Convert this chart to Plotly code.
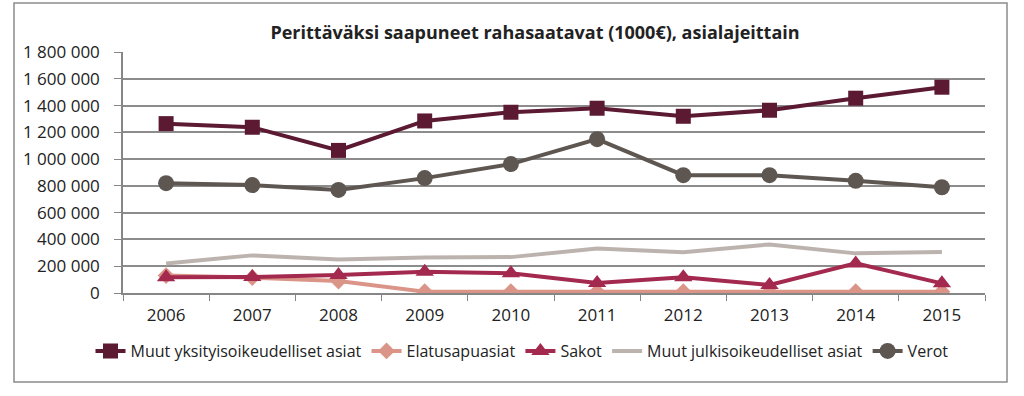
import plotly.graph_objects as go

years = ["2006", "2007", "2008", "2009", "2010", "2011", "2012", "2013", "2014", "2015"]
muut_yksityis = [1265000, 1238000, 1065000, 1285000, 1350000, 1380000, 1320000, 1365000, 1455000, 1537000]
elatusapu = [130000, 115000, 90000, 10000, 10000, 10000, 10000, 10000, 10000, 10000]
sakot = [117000, 120000, 134000, 159000, 147000, 75000, 117000, 60000, 221000, 72000]
muut_julkis = [221000, 281000, 251000, 266000, 268000, 333000, 304000, 363000, 296000, 306000]
verot = [820000, 806000, 770000, 858000, 963000, 1149000, 880000, 880000, 838000, 790000]

y_ticks = [0, 200000, 400000, 600000, 800000, 1000000, 1200000, 1400000, 1600000, 1800000]

fig = go.Figure()
fig.add_trace(go.Scatter(x=years, y=muut_yksityis, name="Muut yksityisoikeudelliset asiat",
                         mode="lines+markers", line=dict(color="#5B1932", width=4),
                         marker=dict(symbol="square", size=15, color="#5B1932")))
fig.add_trace(go.Scatter(x=years, y=elatusapu, name="Elatusapuasiat",
                         mode="lines+markers", line=dict(color="#DB9488", width=4),
                         marker=dict(symbol="diamond", size=13, color="#DB9488")))
fig.add_trace(go.Scatter(x=years, y=sakot, name="Sakot",
                         mode="lines+markers", line=dict(color="#A3294F", width=4),
                         marker=dict(symbol="triangle-up", size=16, color="#A3294F")))
fig.add_trace(go.Scatter(x=years, y=muut_julkis, name="Muut julkisoikeudelliset asiat",
                         mode="lines", line=dict(color="#BCB3AE", width=4)))
fig.add_trace(go.Scatter(x=years, y=verot, name="Verot",
                         mode="lines+markers", line=dict(color="#5E5651", width=4),
                         marker=dict(symbol="circle", size=16, color="#5E5651")))

L, R, T, B = 123, 39, 52, 103
W, H = 1024, 396
pw, ph = W - L - R, H - T - B

fig.update_layout(
    width=W, height=H,
    margin=dict(l=L, r=R, t=T, b=B, autoexpand=False),
    paper_bgcolor="white", plot_bgcolor="white",
    separators=", ",
    font=dict(family="Open Sans, sans-serif", color="#222222"),
    title=dict(text="<b>Perittäväksi saapuneet rahasaatavat (1000€), asialajeittain</b>",
               x=(535 - L) / pw, xref="paper", xanchor="center",
               y=1 - 33 / H, yanchor="middle", font=dict(size=18, color="#222222")),
    xaxis=dict(type="category", range=[-0.5, 9.5], showgrid=False, automargin=False,
               showline=True, linecolor="#868686", linewidth=1.5,
               ticks="outside", tickson="boundaries", ticklen=6, tickcolor="#868686",
               ticklabelstandoff=6, tickfont=dict(size=17)),
    yaxis=dict(range=[0, 1800000], tickvals=y_ticks, tickformat=",d", automargin=False,
               showgrid=True, gridcolor="#8C8C8C", gridwidth=1.5,
               showline=True, linecolor="#868686", linewidth=1.5,
               ticks="outside", ticklen=7, tickcolor="#868686",
               ticklabelstandoff=11, tickfont=dict(size=17), zeroline=False),
    showlegend=True,
    legend=dict(orientation="h", xref="container", yref="container",
                x=522 / W, xanchor="center",
                y=1 - 351 / H, yanchor="middle",
                font=dict(size=16), itemwidth=30, tracegroupgap=0,
                bgcolor="rgba(0,0,0,0)"),
    shapes=[dict(type="rect", xref="paper", yref="paper",
                 x0=(14 - L) / pw, x1=(1007 - L) / pw,
                 y0=(293 - 382) / ph, y1=(293 - 3) / ph,
                 line=dict(color="#8C8C8C", width=1.5), fillcolor="rgba(0,0,0,0)", layer="below")],
)

fig.write_html("out.html", config={"displayModeBar": False},
               post_script="document.body.style.margin='0';document.body.style.padding='0';")
